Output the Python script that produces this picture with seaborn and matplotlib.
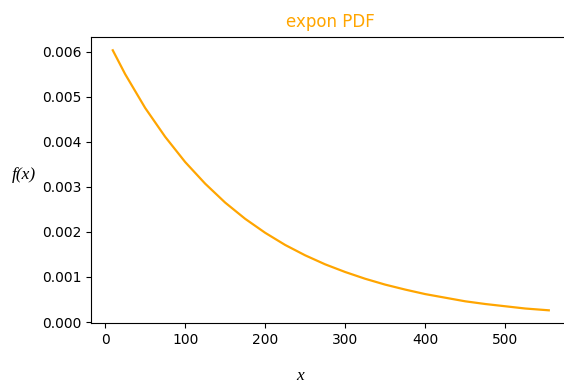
import numpy as np
import pandas as pd
import matplotlib
matplotlib.use("Agg")
import matplotlib.pyplot as plt
import seaborn as sns

# values
x_vals = [9.5, 25, 50, 75, 100, 125, 150, 175, 200, 225, 250, 275, 300,
          325, 350, 375, 400, 425, 450, 475, 500, 525, 554.5]
pdf_vals = [0.00603, 0.00550, 0.00475, 0.00411, 0.00355, 0.00307, 0.00265,
            0.00229, 0.00198, 0.00171, 0.00148, 0.00128, 0.00111, 0.00096,
            0.00083, 0.00072, 0.00062, 0.00054, 0.00046, 0.00040, 0.00035,
            0.00030, 0.00026]

df = pd.DataFrame({"x": x_vals, "pdf": pdf_vals})

fig = plt.figure(figsize=(5.64, 3.86), dpi=100)
# right edge of the frame falls just outside the picture, as in the reference
ax = fig.add_axes([0.1613, 0.1624, 0.8504, 0.741])

sns.lineplot(data=df, x="x", y="pdf", color="orange", linewidth=1.6, ax=ax)

ax.set_xticks([0, 100, 200, 300, 400, 500])
ax.set_yticks([0.000, 0.001, 0.002, 0.003, 0.004, 0.005, 0.006])
ax.set_yticklabels(["0.000", "0.001", "0.002", "0.003", "0.004", "0.005", "0.006"])
ax.tick_params(labelsize=10)

ax.set_title("expon PDF", color="orange", fontsize=12, pad=7.5)
ax.set_xlabel("x", family="Liberation Serif", style="italic", fontsize=12.5,
              va="center")
ax.set_ylabel("f(x)", family="Liberation Serif", style="italic", fontsize=12.5,
              rotation=0, ha="center", va="center")
ax.xaxis.set_label_coords(0.436, -0.184)
ax.yaxis.set_label_coords(-0.14, 0.52)

fig.savefig("out.png", dpi=100)
